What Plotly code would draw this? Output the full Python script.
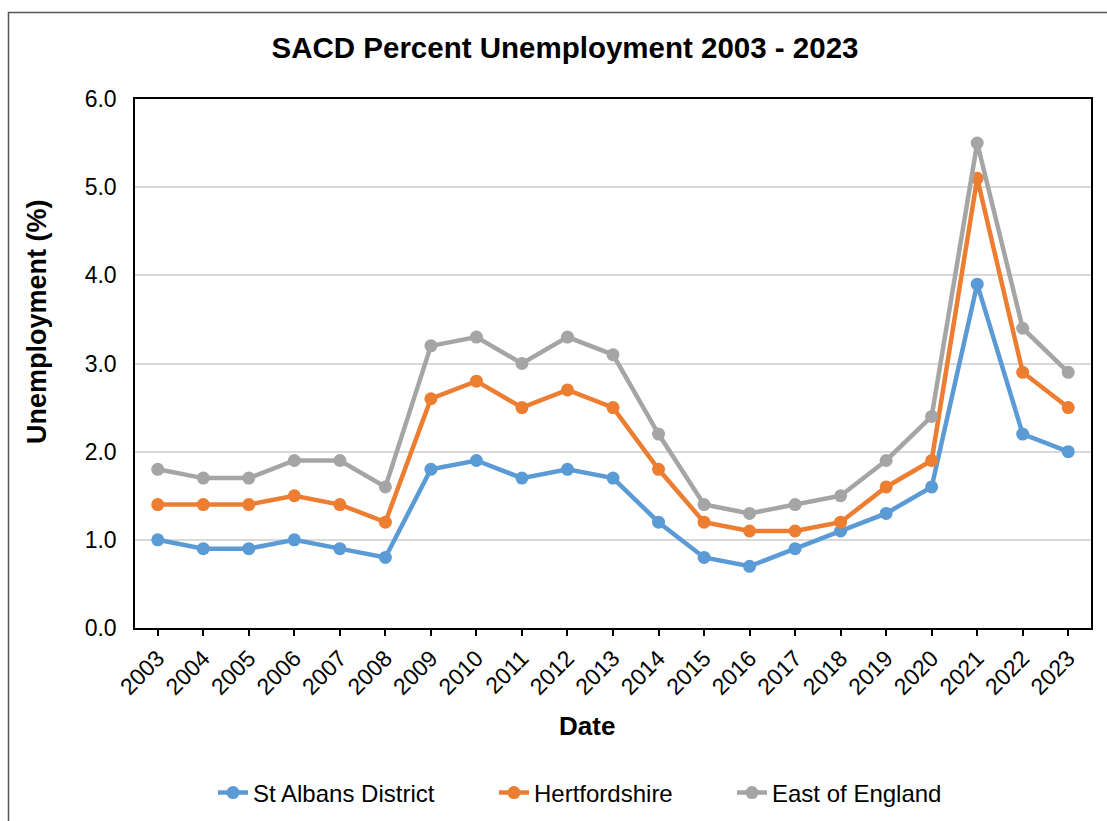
import plotly.graph_objects as go

years = [str(y) for y in range(2003, 2024)]
st_albans = [1.0, 0.9, 0.9, 1.0, 0.9, 0.8, 1.8, 1.9, 1.7, 1.8, 1.7, 1.2, 0.8, 0.7, 0.9, 1.1, 1.3, 1.6, 3.9, 2.2, 2.0]
herts = [1.4, 1.4, 1.4, 1.5, 1.4, 1.2, 2.6, 2.8, 2.5, 2.7, 2.5, 1.8, 1.2, 1.1, 1.1, 1.2, 1.6, 1.9, 5.1, 2.9, 2.5]
east = [1.8, 1.7, 1.7, 1.9, 1.9, 1.6, 3.2, 3.3, 3.0, 3.3, 3.1, 2.2, 1.4, 1.3, 1.4, 1.5, 1.9, 2.4, 5.5, 3.4, 2.9]
series_names = ["St Albans District", "Hertfordshire", "East of England"]
colors = ["#5B9BD5", "#ED7D31", "#A5A5A5"]

FONT = "Liberation Sans, Arial, sans-serif"
L, R, T, B = 135, 16, 99, 193
W, H = 1107, 821
pw = W - L - R
ph = H - T - B

def px(x):
    return (x - L) / pw

def py(y):
    return (H - B - y) / ph

legend_ids = ["legend", "legend2", "legend3"]
legend_text_x = [256, 537, 775]

fig = go.Figure()
for name, vals, c, lid in zip(series_names, [st_albans, herts, east], colors, legend_ids):
    fig.add_trace(go.Scatter(
        x=years, y=vals, name=name, mode="lines+markers",
        line=dict(color=c, width=4.5),
        marker=dict(color=c, size=13),
        legend=lid,
    ))

legend_layout = {}
for lid, tx in zip(legend_ids, legend_text_x):
    legend_layout[lid] = dict(
        orientation="h", xref="container", x=(tx - 43) / W, xanchor="left",
        yref="container", y=1 - 793 / H, yanchor="middle",
        font=dict(size=24, family=FONT, color="black"), bgcolor="rgba(0,0,0,0)",
    )

fig.update_layout(
    width=W, height=H,
    margin=dict(l=L, r=R, t=T, b=B, autoexpand=False),
    paper_bgcolor="white", plot_bgcolor="white",
    font=dict(family=FONT, color="black", size=23),
    title=dict(text="<b>SACD Percent Unemployment 2003 - 2023</b>",
               font=dict(size=29.5, family=FONT, color="black"),
               x=px(565), xref="paper", xanchor="center",
               y=1 - 48 / H, yref="container", yanchor="middle"),
    showlegend=True,
    xaxis=dict(
        type="category", range=[-0.5, 20.5], automargin=False,
        showline=True, linecolor="black", linewidth=1.5, mirror=True,
        ticks="outside", ticklen=6, tickcolor="black", tickwidth=1.5,
        tickangle=-45, tickfont=dict(size=23, family=FONT),
        showgrid=False, zeroline=False,
    ),
    yaxis=dict(
        range=[0, 6], dtick=1, tickformat=".1f", automargin=False,
        showline=True, linecolor="black", linewidth=1.5, mirror=True,
        ticks="", showgrid=True, gridcolor="#D9D9D9", gridwidth=1.5,
        tickfont=dict(size=23, family=FONT), ticklabelstandoff=12,
        zeroline=False,
    ),
    annotations=[
        dict(text="<b>Date</b>", x=px(587), y=py(726), xref="paper", yref="paper",
             showarrow=False, font=dict(size=26, family=FONT), xanchor="center", yanchor="middle"),
        dict(text="<b>Unemployment (%)</b>", x=px(37), y=py(322), xref="paper", yref="paper",
             showarrow=False, textangle=-90, font=dict(size=27, family=FONT),
             xanchor="center", yanchor="middle"),
    ],
    shapes=[
        dict(type="rect", xref="paper", yref="paper",
             x0=px(8.5), x1=px(1115), y0=py(830), y1=py(12.5),
             line=dict(color="#555555", width=1.5), fillcolor="rgba(0,0,0,0)", layer="below"),
    ],
    **legend_layout,
)

fig.write_html("out.html")
